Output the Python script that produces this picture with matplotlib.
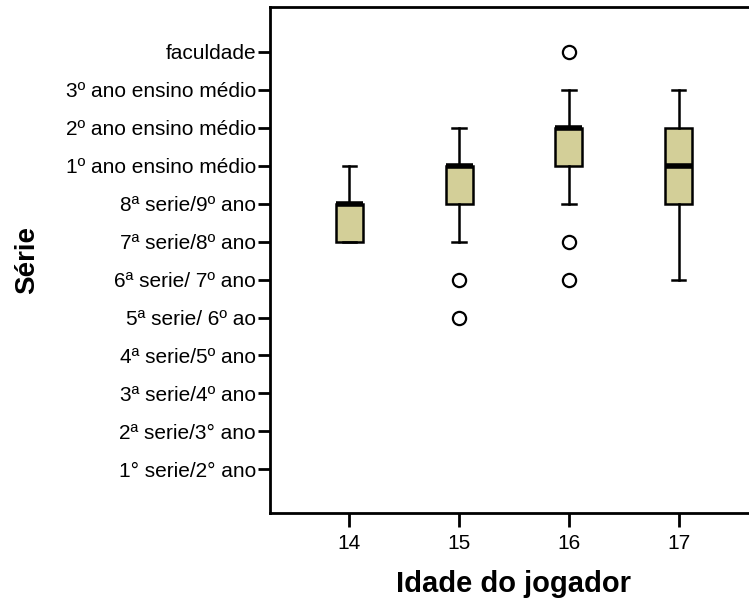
import matplotlib.pyplot as plt

plt.rcParams['font.family'] = ['Liberation Sans', 'DejaVu Sans']

# series levels (1 = 1° serie/2° ano ... 12 = faculdade)
serie_labels = ['1° serie/2° ano', '2ª serie/3° ano', '3ª serie/4º ano',
                '4ª serie/5º ano', '5ª serie/ 6º ao', '6ª serie/ 7º ano',
                '7ª serie/8º ano', '8ª serie/9º ano', '1º ano ensino médio',
                '2º ano ensino médio', '3º ano ensino médio', 'faculdade']

idades = [14, 15, 16, 17]
q1 = [7, 8, 9, 8]
mediana = [8, 9, 10, 9]
q3 = [8, 9, 10, 10]
whisker_low = [7, 7, 8, 6]
whisker_high = [9, 10, 11, 11]
outliers = [[], [6, 5], [12, 7, 6], []]

stats = []
for i in range(len(idades)):
    stats.append({'q1': q1[i], 'med': mediana[i], 'q3': q3[i],
                  'whislo': whisker_low[i], 'whishi': whisker_high[i],
                  'fliers': outliers[i]})

fig = plt.figure(figsize=(7.49, 6.05), dpi=100)
ax = fig.add_axes([270 / 749, 92 / 605, 488 / 749, 506 / 605])

ax.bxp(stats, positions=idades, widths=0.245, patch_artist=True,
       boxprops=dict(facecolor='#D3CF98', edgecolor='black', linewidth=1.8),
       medianprops=dict(color='black', linewidth=4, solid_capstyle='butt'),
       whiskerprops=dict(color='black', linewidth=1.8),
       capprops=dict(color='black', linewidth=1.8),
       flierprops=dict(marker='o', markerfacecolor='white', markeredgecolor='black',
                       markersize=9.5, markeredgewidth=1.6),
       capwidths=0.12)

ax.set_xlim(13.28, 17.72)
ax.set_ylim(-0.15, 13.18)
ax.set_yticks(range(1, 13))
ax.set_yticklabels(serie_labels)
ax.set_xticks(idades)
ax.set_xticklabels([str(a) for a in idades])

ax.tick_params(axis='y', length=9, width=2, labelsize=15, pad=1)
ax.tick_params(axis='x', length=10, width=2, labelsize=15, pad=5)
for s in ['left', 'bottom', 'top']:
    ax.spines[s].set_linewidth(2)
ax.spines['right'].set_visible(False)

ax.set_xlabel('Idade do jogador', fontsize=21, fontweight='bold')
ax.set_ylabel('Série', fontsize=20, fontweight='bold')
ax.xaxis.set_label_coords(0.498, -0.112)
ax.yaxis.set_label_coords(-0.47, 0.5)

plt.savefig('out.png', dpi=100)
